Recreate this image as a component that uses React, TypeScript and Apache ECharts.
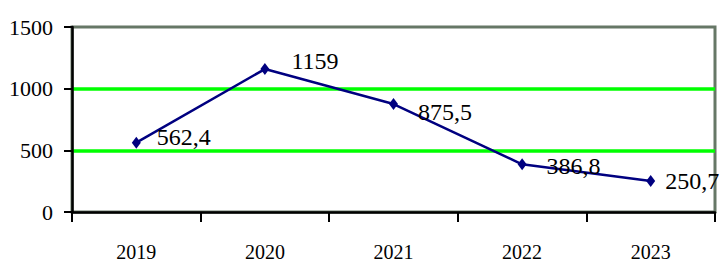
import React, { useEffect, useRef } from "react";
import * as echarts from "echarts";

const categories = ["2019", "2020", "2021", "2022", "2023"];
const values = [562.4, 1159, 875.5, 386.8, 250.7];
const labelOffsets: [number, number][] = [[4, -6], [10, -8], [8, 8], [8, 2], [-2, 0]];
const yMin = 0;
const yMax = 1500;
const yInterval = 500;

const FONT = "Liberation Serif, Times New Roman, serif";

export default function App() {
  const ref = useRef<HTMLDivElement>(null);
  useEffect(() => {
    if (!ref.current) return;
    const chart = echarts.init(ref.current, undefined, { renderer: "svg" });
    chart.setOption({
      animation: false,
      backgroundColor: "#ffffff",
      grid: {
        left: 72,
        right: 8,
        top: 27,
        bottom: 54,
        show: true,
        borderColor: "#667766",
        borderWidth: 3,
        backgroundColor: "transparent",
      },
      xAxis: {
        type: "category",
        data: categories,
        boundaryGap: true,
        axisLine: { show: true, lineStyle: { color: "#000", width: 2.5 } },
        axisTick: { show: true, interval: 0, length: 10, inside: false, lineStyle: { color: "#000", width: 2 } },
        axisLabel: { margin: 30, fontFamily: FONT, fontSize: 20, color: "#000" },
        splitLine: { show: false },
      },
      yAxis: {
        type: "value",
        min: yMin,
        max: yMax,
        interval: yInterval,
        axisLine: { show: true, lineStyle: { color: "#000", width: 2.5 } },
        axisTick: { show: true, length: 8, lineStyle: { color: "#000", width: 2 } },
        axisLabel: {
          margin: 19,
          fontFamily: FONT,
          fontSize: 22,
          color: "#000",
          formatter: (v: number) => String(v),
        },
        splitLine: {
          show: true,
          lineStyle: { color: ["transparent", "#00ff00", "#00ff00", "transparent"], width: 3.5 },
        },
      },
      series: [
        {
          type: "line",
          data: values.map((v, i) => ({
            value: v,
            label: { offset: labelOffsets[i] },
          })),
          symbol: "diamond",
          symbolSize: [9, 12],
          lineStyle: { color: "#000080", width: 2.5 },
          itemStyle: { color: "#000080" },
          label: {
            show: true,
            position: "right",
            distance: 12,
            fontFamily: FONT,
            fontSize: 24,
            color: "#000",
            formatter: (p: any) => String(p.value).replace(".", ","),
          },
          z: 5,
        },
      ],
    });
    return () => chart.dispose();
  }, []);
  return (
    <div
      ref={ref}
      style={{ position: "fixed", left: 0, top: 0, width: 723, height: 266, background: "#fff" }}
    />
  );
}
